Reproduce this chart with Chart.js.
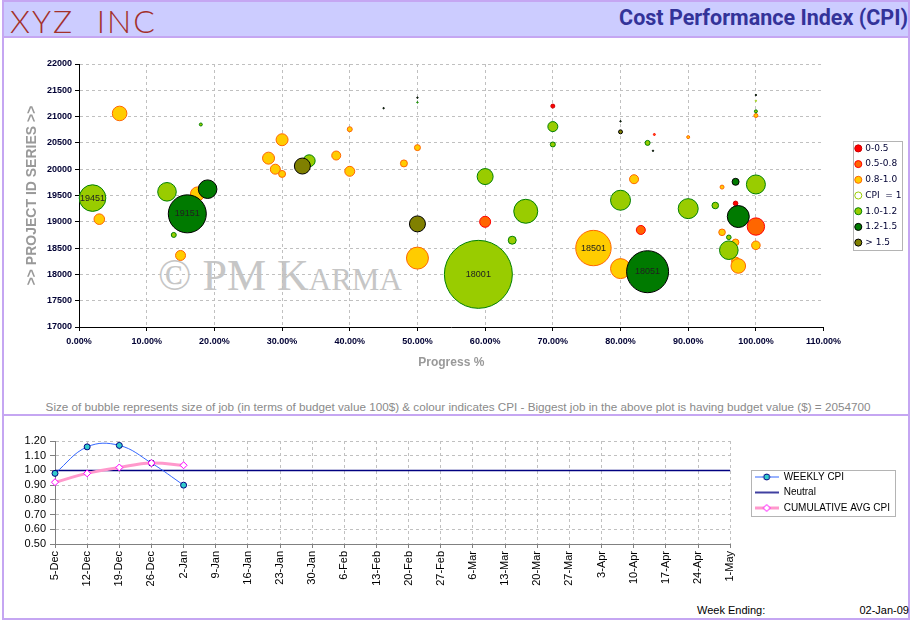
<!DOCTYPE html>
<html>
<head>
<meta charset="utf-8">
<script src="https://cdn.jsdelivr.net/npm/chart.js@4.4.1/dist/chart.umd.min.js"></script>
<style>
body { margin: 0; width: 914px; height: 622px; position: relative; overflow: hidden; background: #fff; font-family: "Liberation Sans", Arial, sans-serif; }
#frame { position: absolute; left: 2px; top: 0; width: 904px; height: 616px; border: 2px solid #c5a6f2; }
#header { position: absolute; left: 4px; top: 2px; width: 904px; height: 34px; background: #ccccff; border-bottom: 2px solid #c5a6f2; }
#sep { position: absolute; left: 4px; top: 414px; width: 904px; height: 2px; background: #c5a6f2; }
#brand { position: absolute; left: 10px; top: 1px; font: 300 32px "Lato", sans-serif; text-transform: uppercase; letter-spacing: 2px; word-spacing: 12px; color: #a3302b; white-space: nowrap; }
#title { position: absolute; right: 6px; top: 5px; font: bold 21.5px "Roboto", sans-serif; color: #333399; white-space: nowrap; }
#mark { position: absolute; left: 158px; top: 250px; font: 44px "Liberation Serif", serif; font-variant: small-caps; color: #c6c6c6; white-space: nowrap; }
#caption { position: absolute; left: 0; width: 916px; top: 400px; text-align: center; font: 11.7px "Liberation Sans", sans-serif; color: #8a8a8a; white-space: nowrap; }
#weekLbl { position: absolute; left: 697px; top: 604px; font: 11px "Liberation Sans", sans-serif; color: #000; }
#weekVal { position: absolute; right: 5px; top: 604px; font: 11px "Liberation Sans", sans-serif; color: #000; }
#bubbleBox { position: absolute; left: 0; top: 38px; width: 914px; height: 345px; }
#lineBox { position: absolute; left: 0; top: 420px; width: 914px; height: 180px; }
</style>
</head>
<body>
<div id="frame"></div>
<div id="header"></div>
<div id="brand">XYZ Inc</div>
<div id="title">Cost Performance Index (CPI)</div>
<div id="sep"></div>
<div id="mark">© PM Karma</div>
<div id="bubbleBox"><canvas id="bubbleChart" width="914" height="345"></canvas></div>
<div id="caption">Size of bubble represents size of job (in terms of budget value 100$) &amp; colour indicates CPI - Biggest job in the above plot is having budget value ($) = 2054700</div>
<div id="lineBox"><canvas id="lineChart" width="914" height="180"></canvas></div>
<div id="weekLbl">Week Ending:</div>
<div id="weekVal">02-Jan-09</div>
<script>
// bubble plot: one entry per job
const progressPct = [6, 18, 30, 28, 29, 30, 34, 33, 2, 3, 13, 17.5, 16, 19, 14, 15,
    45, 50, 50, 70, 40, 70, 50, 70, 38, 48, 40, 60, 66, 50, 60, 64, 50, 59, 76,
    80, 80, 85, 84, 84.8, 90, 100, 100, 100, 100, 82, 80, 83, 80, 84, 90, 94, 95,
    97, 100, 97, 97.4, 100, 95, 96, 97, 100, 96, 97, 97.4];
const projectIds = [21060, 20850, 20560, 20210, 20000, 19910, 20160, 20060, 19451, 19050, 19570, 19530, 19151, 19620, 18750, 18360,
    21160, 21360, 21270, 21200, 20760, 20810, 20410, 20470, 20260, 20110, 19960, 19860, 19200, 18960, 19000, 18650, 18310, 18001, 18501,
    20910, 20710, 20660, 20500, 20350, 20610, 21410, 21300, 21100, 21020, 19810, 19410, 18845, 18110, 18051, 19250, 19310, 19660,
    19760, 19710, 19350, 19100, 18910, 18800, 18705, 18610, 18553, 18460, 18255, 18160];
const budgets = [94700, 4000, 64000, 64000, 44400, 21800, 64000, 113800, 314400, 49900, 153700, 87100, 641600, 153700, 11100, 44400,
    900, 900, 900, 7100, 11100, 44400, 16000, 11100, 36000, 21800, 44400, 113800, 256000, 113800, 53800, 28400, 215100, 2054700, 556900,
    900, 7100, 1800, 11100, 900, 4000, 900, 900, 4000, 7100, 36000, 177700, 36000, 177700, 783800, 177700, 19400, 7100,
    21800, 160400, 9400, 215100, 134500, 19400, 9400, 19400, 32800, 153700, 28400, 94700];
const cpiValues = [0.92, 1.10, 0.90, 0.88, 0.91, 0.95, 1.08, 1.60, 1.12, 0.93, 1.05, 0.89, 1.30, 1.25, 1.15, 0.94,
    1.35, 1.30, 1.10, 0.40, 0.85, 1.10, 0.90, 1.12, 0.87, 0.90, 0.92, 1.07, 1.14, 1.75, 0.70, 1.10, 0.86, 1.02, 0.96,
    1.40, 1.65, 0.60, 1.10, 1.30, 0.90, 1.30, 1.00, 1.10, 0.90, 0.90, 1.08, 0.65, 0.89, 1.35, 1.09, 1.11, 0.93,
    1.22, 1.06, 0.45, 1.28, 0.75, 0.88, 1.05, 0.95, 0.91, 1.13, 0.94, 0.92];
const cpiBands = ['0-0.5', '0.5-0.8', '0.8-1.0', 'CPI  = 1', '1.0-1.2', '1.2-1.5', '> 1.5'];

// weekly trend
const weekLabels = ['5-Dec', '12-Dec', '19-Dec', '26-Dec', '2-Jan', '9-Jan', '16-Jan', '23-Jan', '30-Jan', '6-Feb', '13-Feb',
    '20-Feb', '27-Feb', '6-Mar', '13-Mar', '20-Mar', '27-Mar', '3-Apr', '10-Apr', '17-Apr', '24-Apr', '1-May'];
const weeklyCpi = [0.98, 1.16, 1.17, 1.05, 0.90];
const cumulativeCpi = [0.92, 0.98, 1.02, 1.05, 1.035];
const neutralCpi = 1.00;

const bandFill = ['#ff0000', '#ff6600', '#ffcc00', '#ffffff', '#99cc00', '#007a00', '#808000'];
const bandBorder = ['#cc0000', '#ff0000', '#ff6600', '#99cc00', '#008000', '#000000', '#000000'];
const maxRadius = 34;
const labelMinBudget = 300000;

function bandOf(cpi) {
    if (cpi < 0.5) return 0;
    if (cpi < 0.8) return 1;
    if (cpi < 1.0) return 2;
    if (cpi === 1.0) return 3;
    if (cpi <= 1.2) return 4;
    if (cpi <= 1.5) return 5;
    return 6;
}

const maxBudget = Math.max(...budgets);
const bubbleSets = cpiBands.map((name, b) => ({
    label: name,
    data: progressPct.map((x, i) => ({ x: x, y: projectIds[i], r: maxRadius * Math.sqrt(budgets[i] / maxBudget), budget: budgets[i] }))
        .filter((p, i) => bandOf(cpiValues[i]) === b),
    backgroundColor: bandFill[b],
    borderColor: bandBorder[b],
    borderWidth: 1,
    order: cpiBands.length - b
}));

const legendFrame = {
    id: 'legendFrame',
    afterDraw(chart, args, opts) {
        const boxes = chart.legend && chart.legend.legendHitBoxes;
        if (!boxes || !boxes.length) return;
        const l = Math.min(...boxes.map(b => b.left)) - opts.left;
        const r = Math.max(...boxes.map(b => b.left + b.width)) + opts.right;
        const t = Math.min(...boxes.map(b => b.top)) - opts.top;
        const btm = Math.max(...boxes.map(b => b.top + b.height)) + opts.bottom;
        const ctx = chart.ctx;
        ctx.save();
        ctx.strokeStyle = '#b4b4b4';
        ctx.lineWidth = 1;
        ctx.strokeRect(Math.round(l) + 0.5, Math.round(t) + 0.5, Math.round(r - l), Math.round(btm - t));
        ctx.restore();
    }
};

const bubbleLabels = {
    id: 'bubbleLabels',
    afterDatasetsDraw(chart) {
        const ctx = chart.ctx;
        ctx.save();
        ctx.font = '9px "Liberation Sans", sans-serif';
        ctx.fillStyle = '#202020';
        ctx.textAlign = 'center';
        ctx.textBaseline = 'middle';
        chart.data.datasets.forEach((ds, i) => {
            chart.getDatasetMeta(i).data.forEach((el, j) => {
                const p = ds.data[j];
                if (p.budget >= labelMinBudget) ctx.fillText(String(p.y), el.x, el.y);
            });
        });
        ctx.restore();
    }
};

const bySetIndex = (a, b) => a.datasetIndex - b.datasetIndex;

new Chart(document.getElementById('bubbleChart'), {
    type: 'bubble',
    data: { datasets: bubbleSets },
    options: {
        responsive: false,
        animation: false,
        layout: { autoPadding: false, padding: { left: 20, top: 26, bottom: 8.8, right: 2.5 } },
        clip: false,
        scales: {
            x: {
                type: 'linear', min: 0, max: 110,
                afterFit: s => { s.height = 47.2; },
                ticks: { stepSize: 10, padding: 5, color: '#000033', font: { family: 'Liberation Sans', size: 9, weight: 'bold' },
                    callback: v => v.toFixed(2) + '%' },
                grid: { color: c => (c.tick && c.tick.value === 110) ? 'rgba(0,0,0,0)' : '#c0c0c0', tickColor: '#000', tickLength: 4 },
                border: { color: '#000', width: 1, dash: [3, 3] },
                title: { display: true, text: 'Progress %', color: '#999999', font: { family: 'Liberation Sans', size: 12, weight: 'bold' } }
            },
            y: {
                type: 'linear', min: 17000, max: 22000,
                afterFit: s => { s.width = 59; },
                ticks: { stepSize: 500, padding: 3, color: '#000033', font: { family: 'Liberation Sans', size: 9, weight: 'bold' },
                    callback: v => String(v) },
                grid: { color: '#c0c0c0', tickColor: '#000', tickLength: 4 },
                border: { color: '#000', width: 1, dash: [3, 3] },
                title: { display: true, text: '>> PROJECT ID SERIES >>', color: '#999999', font: { family: 'Liberation Sans', size: 14, weight: 'bold' } }
            },
            gap: {
                type: 'linear', position: 'right', display: true,
                afterFit: s => { s.width = 25.5; },
                ticks: { display: false }, grid: { display: false }, border: { display: false }
            }
        },
        plugins: {
            tooltip: { enabled: false },
            legend: {
                position: 'right', align: 'center', fullSize: false,
                labels: { usePointStyle: true, boxWidth: 5, boxHeight: 5, padding: 6.7, color: '#000033',
                    font: { family: 'DejaVu Sans', size: 9 }, sort: bySetIndex }
            },
            legendFrame: { left: 3, right: 0, top: 2.5, bottom: 3.5 }
        }
    },
    plugins: [bubbleLabels, legendFrame]
});

function swatch(lineColor, lineWidth, marker) {
    const c = document.createElement('canvas');
    c.width = 24; c.height = 10;
    const g = c.getContext('2d');
    g.strokeStyle = lineColor; g.lineWidth = lineWidth;
    g.beginPath(); g.moveTo(0, 5); g.lineTo(24, 5); g.stroke();
    if (marker) marker(g);
    return c;
}
const swatches = [
    swatch('#3366ff', 1, g => { g.beginPath(); g.arc(12, 5, 3, 0, Math.PI * 2); g.fillStyle = '#33cccc'; g.fill(); g.strokeStyle = '#000080'; g.lineWidth = 1; g.stroke(); }),
    swatch('#000080', 1.5),
    swatch('#ff99cc', 3, g => { g.beginPath(); g.moveTo(12, 1.5); g.lineTo(15.5, 5); g.lineTo(12, 8.5); g.lineTo(8.5, 5); g.closePath(); g.fillStyle = '#fff'; g.fill(); g.strokeStyle = '#ff00ff'; g.lineWidth = 1; g.stroke(); })
];

new Chart(document.getElementById('lineChart'), {
    type: 'line',
    data: {
        labels: weekLabels,
        datasets: [
            { label: 'WEEKLY CPI', data: weeklyCpi, borderColor: '#3366ff', borderWidth: 1, tension: 0.4,
              pointRadius: 3, pointBackgroundColor: '#33cccc', pointBorderColor: '#000080', pointBorderWidth: 1, order: 1 },
            { label: 'Neutral', data: weekLabels.map(() => neutralCpi), borderColor: '#000080', borderWidth: 1.5,
              pointRadius: 0, order: 2 },
            { label: 'CUMULATIVE AVG CPI', data: cumulativeCpi, borderColor: '#ff99cc', borderWidth: 3, tension: 0.4,
              pointStyle: 'rectRot', pointRadius: 3.5, pointBackgroundColor: '#ffffff', pointBorderColor: '#ff00ff', pointBorderWidth: 1, order: 0 }
        ]
    },
    options: {
        responsive: false,
        animation: false,
        layout: { autoPadding: false, padding: { left: 0, top: 21, bottom: 0, right: 15 } },
        scales: {
            x: {
                offset: false,
                afterFit: s => { s.height = 56; },
                ticks: { autoSkip: false, maxRotation: 90, minRotation: 90, padding: 3, color: '#000',
                    font: { family: 'Liberation Sans', size: 11 } },
                grid: { offset: false, color: '#c0c0c0', tickColor: '#808080', tickLength: 4 },
                border: { color: '#808080', width: 1, dash: [3, 3] }
            },
            y: {
                min: 0.5, max: 1.2,
                afterFit: s => { s.width = 55; },
                ticks: { stepSize: 0.1, autoSkip: false, padding: 4, color: '#000', font: { family: 'Liberation Sans', size: 11, lineHeight: 1 },
                    callback: v => v.toFixed(2) },
                grid: { color: '#c0c0c0', tickColor: '#808080', tickLength: 5 },
                border: { color: '#808080', width: 1, dash: [3, 3] }
            },
            gap: {
                type: 'linear', position: 'right', display: true,
                afterFit: s => { s.width = 19; },
                ticks: { display: false }, grid: { display: false }, border: { display: false }
            }
        },
        plugins: {
            tooltip: { enabled: false },
            legend: {
                position: 'right', align: 'center', fullSize: false,
                labels: { usePointStyle: true, pointStyleWidth: 24, boxWidth: 24, boxHeight: 10, padding: 5.5, color: '#000',
                    font: { family: 'Liberation Sans', size: 10 }, sort: bySetIndex,
                    generateLabels: chart => Chart.defaults.plugins.legend.labels.generateLabels(chart)
                        .map(item => Object.assign(item, { pointStyle: swatches[item.datasetIndex] })) }
            },
            legendFrame: { left: 4, right: 5, top: 2, bottom: 3 }
        }
    },
    plugins: [legendFrame]
});
</script>
</body>
</html>
